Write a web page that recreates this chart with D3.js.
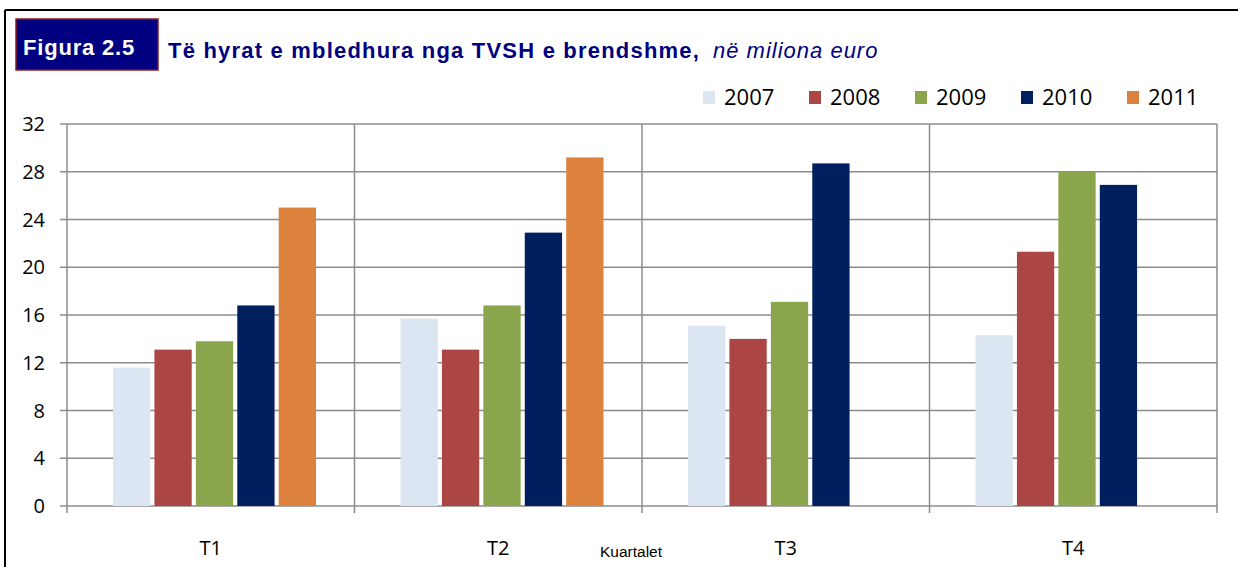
<!DOCTYPE html>
<html>
<head>
<meta charset="utf-8">
<script src="https://cdn.jsdelivr.net/npm/d3@7"></script>
<style>
  body { margin: 0; background: #fff; }
  svg { display: block; }
</style>
</head>
<body>
<svg id="main-svg"></svg>
<script>
// quarters and series (millions of euro)
let quarters = ['T1', 'T2', 'T3', 'T4'];
let years = ['2007', '2008', '2009', '2010', '2011'];
let v2007 = [11.6, 15.7, 15.1, 14.3];
let v2008 = [13.1, 13.1, 14.0, 21.3];
let v2009 = [13.8, 16.8, 17.1, 28.0];
let v2010 = [16.8, 22.9, 28.7, 26.9];
let v2011 = [25.0, 29.2, null, null];
let yTicks = [0, 4, 8, 12, 16, 20, 24, 28, 32];
let colors = ['#dce6f2', '#ab4645', '#8aa54c', '#001f5f', '#dc823d'];

let seriesValues = [v2007, v2008, v2009, v2010, v2011];

let width = 1238;
let height = 567;
let plot = { left: 67, right: 1217, top: 124, bottom: 506 };

let svg = d3.select('#main-svg')
  .attr('width', width)
  .attr('height', height);

// frame lines (top and left)
svg.append('line')
  .attr('x1', 5).attr('x2', width).attr('y1', 10).attr('y2', 10)
  .style('stroke', '#000').style('stroke-width', 2);
svg.append('line')
  .attr('x1', 5).attr('x2', 5).attr('y1', 10).attr('y2', height)
  .style('stroke', '#000').style('stroke-width', 2);

// title
svg.append('rect')
  .attr('x', 16).attr('y', 19).attr('width', 142).attr('height', 51)
  .style('fill', '#000080').style('stroke', '#8b1a1a').style('stroke-width', 1.5);
svg.append('text')
  .attr('x', 23).attr('y', 55)
  .style('font-family', 'Liberation Sans, Arial, sans-serif')
  .style('font-weight', 'bold')
  .style('font-size', '22px')
  .style('letter-spacing', '0.8px')
  .style('fill', '#fff')
  .text('Figura 2.5');
let title = svg.append('text')
  .attr('x', 168).attr('y', 58)
  .style('font-family', 'Liberation Sans, Arial, sans-serif')
  .style('font-size', '22px')
  .style('letter-spacing', '1.2px')
  .style('fill', '#000080');
title.append('tspan').style('font-weight', 'bold').text('Të hyrat e mbledhura nga TVSH e brendshme,');
title.append('tspan').attr('x', 713).style('font-style', 'italic').style('letter-spacing', '1px').text('në miliona euro');

let x0 = d3.scaleBand()
  .domain(quarters)
  .range([plot.left, plot.right]);

let x1 = d3.scaleBand()
  .domain(years)
  .range([46, 249])
  .paddingInner(0.1);

let y = d3.scaleLinear()
  .domain([0, 32])
  .range([plot.bottom, plot.top]);

let grid = svg.append('g');

// horizontal gridlines
grid.selectAll('line.h')
  .data(yTicks)
  .enter().append('line')
    .attr('class', 'h')
    .attr('x1', plot.left - 7)
    .attr('x2', plot.right)
    .attr('y1', d => y(d))
    .attr('y2', d => y(d))
    .style('stroke', '#8c8c8c')
    .style('stroke-width', 1.5);

// vertical gridlines at category boundaries
let bounds = quarters.map(q => x0(q)).concat([plot.right]);
grid.selectAll('line.v')
  .data(bounds)
  .enter().append('line')
    .attr('class', 'v')
    .attr('x1', d => d)
    .attr('x2', d => d)
    .attr('y1', plot.top)
    .attr('y2', plot.bottom + 7)
    .style('stroke', '#8c8c8c')
    .style('stroke-width', 1.5);

// bars
let groups = svg.selectAll('g.quarter')
  .data(quarters)
  .enter().append('g')
    .attr('class', 'quarter')
    .attr('transform', d => `translate(${x0(d)} 0)`);

groups.selectAll('rect')
  .data((q, qi) => years.map((yr, si) => ({ year: yr, si: si, value: seriesValues[si][qi] })))
  .enter().filter(d => d.value !== null).append('rect')
    .attr('x', d => x1(d.year))
    .attr('width', x1.bandwidth())
    .attr('y', d => y(d.value))
    .attr('height', d => y(0) - y(d.value))
    .style('fill', d => colors[d.si]);

// y axis labels
svg.append('g')
  .selectAll('text')
  .data(yTicks)
  .enter().append('text')
    .attr('x', 45)
    .attr('y', d => y(d))
    .attr('dy', '0.36em')
    .attr('text-anchor', 'end')
    .style('font-family', 'Open Sans, sans-serif')
    .style('font-size', '20px')
    .style('fill', '#000')
    .text(d => d);

// category labels
svg.append('g')
  .selectAll('text')
  .data(quarters)
  .enter().append('text')
    .attr('x', d => x0(d) + x0.bandwidth() / 2)
    .attr('y', 555)
    .attr('text-anchor', 'middle')
    .style('font-family', 'Open Sans, sans-serif')
    .style('font-size', '20px')
    .style('fill', '#000')
    .text(d => d);

svg.append('text')
  .attr('x', 631)
  .attr('y', 557)
  .attr('text-anchor', 'middle')
  .style('font-family', 'Liberation Sans Narrow, Liberation Sans, Arial, sans-serif')
  .style('font-size', '15.5px')
  .style('fill', '#000')
  .text('Kuartalet');

// legend
let legend = svg.append('g')
  .selectAll('g')
  .data(years)
  .enter().append('g')
    .attr('transform', (d, i) => `translate(${703 + i * 106} 91)`);
legend.append('rect')
  .attr('width', 12).attr('height', 13)
  .style('fill', (d, i) => colors[i]);
legend.append('text')
  .attr('x', 21)
  .attr('y', 14)
  .style('font-family', 'Open Sans, sans-serif')
  .style('font-size', '22px')
  .style('fill', '#000')
  .text(d => d);
</script>
</body>
</html>
